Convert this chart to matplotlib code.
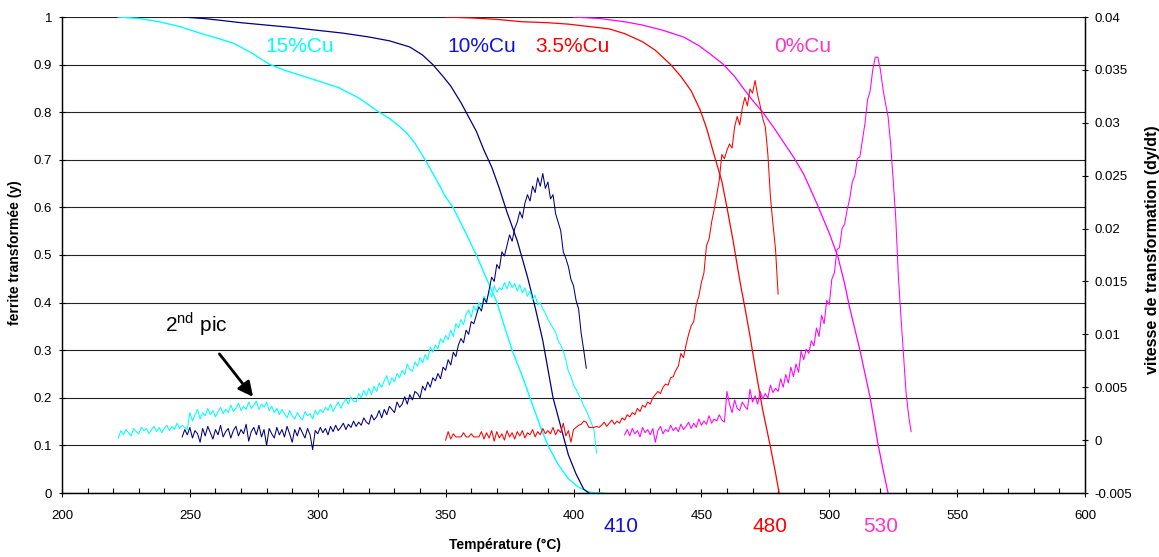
import numpy as np
import matplotlib
matplotlib.use("Agg")
import matplotlib.pyplot as plt
from matplotlib.ticker import MultipleLocator, FormatStrFormatter

plt.rcParams['font.family'] = ['Liberation Sans', 'DejaVu Sans']
plt.rcParams['mathtext.fontset'] = 'custom'
plt.rcParams['mathtext.rm'] = 'Liberation Sans'

# ---- fraction transformée (axe gauche) ----
t_15 = [222, 230, 238, 246, 254, 261, 267, 274, 281, 287, 293, 300, 308, 316, 324, 328, 332,
        335, 338, 342, 346, 350, 353, 358, 362, 366, 370, 373, 376, 380, 383, 387, 390, 394,
        398, 402, 406, 409, 412]
y_15 = [1.0, 0.997, 0.99, 0.98, 0.966, 0.955, 0.945, 0.925, 0.901, 0.888, 0.878, 0.866, 0.852,
        0.83, 0.80, 0.787, 0.77, 0.755, 0.735, 0.70, 0.662, 0.622, 0.599, 0.545, 0.50, 0.45,
        0.401, 0.35, 0.30, 0.245, 0.20, 0.14, 0.10, 0.06, 0.03, 0.012, 0.002, 0.0, 0.0]

t_10 = [247, 255, 262, 270, 280, 290, 300, 310, 320, 328, 336, 341, 345, 349, 352, 356, 359,
        362, 365, 368, 371, 374, 378, 382, 385, 388, 392, 395, 398, 401, 404, 406]
y_10 = [1.0, 0.997, 0.993, 0.988, 0.983, 0.978, 0.972, 0.966, 0.958, 0.95, 0.937, 0.92, 0.90,
        0.875, 0.855, 0.82, 0.79, 0.76, 0.72, 0.685, 0.64, 0.59, 0.53, 0.454, 0.39, 0.32, 0.20,
        0.14, 0.08, 0.04, 0.008, 0.0]

t_35 = [350, 360, 370, 380, 390, 398, 406, 414, 420, 427, 432, 438, 442, 446, 449.5, 452, 455,
        458, 460, 462.4, 465, 467, 469, 471, 474, 477, 479, 480.4]
y_35 = [1.0, 0.998, 0.995, 0.99, 0.988, 0.985, 0.98, 0.975, 0.965, 0.948, 0.93, 0.90, 0.875,
        0.845, 0.805, 0.767, 0.71, 0.655, 0.6, 0.53, 0.447, 0.39, 0.33, 0.265, 0.174, 0.097,
        0.042, 0.0]

t_0 = [400, 410, 420, 427, 435, 443, 449, 453, 458.5, 463, 466, 470, 474, 478, 482, 486, 490,
       495, 500, 503.4, 506, 508, 512, 516, 519, 521, 523]
y_0 = [1.0, 0.997, 0.99, 0.983, 0.972, 0.958, 0.94, 0.924, 0.901, 0.875, 0.853, 0.825, 0.80,
       0.77, 0.738, 0.706, 0.67, 0.61, 0.546, 0.496, 0.44, 0.389, 0.30, 0.20, 0.105, 0.05, 0.0]

# ---- vitesse de transformation (axe droit), en 1e-3, pas de 1 °C ----
rt_15 = np.arange(222, 410)
r_15 = [0.2, 0.9, 0.5, 1.0, 0.7, 0.4, 1.1, 0.8, 0.6, 1.2,
        0.9, 1.1, 0.6, 1.0, 1.3, 0.8, 1.2, 0.7, 1.1, 1.4,
        0.9, 1.3, 1.0, 1.6, 1.1, 1.4, 1.2, 1.0, 2.6, 1.8,
        2.4, 2.9, 2.0, 2.6, 2.3, 3.0, 2.4, 2.8, 2.2, 2.7,
        3.1, 2.5, 2.9, 2.6, 3.3, 2.7, 3.0, 3.5, 2.8, 3.2,
        2.9, 3.6, 3.0, 3.3, 3.7, 2.9, 3.4, 3.1, 3.6, 2.8,
        3.2, 2.6, 3.0, 2.4, 2.9, 2.5, 2.1, 2.8, 2.3, 2.0,
        2.6, 2.2, 1.9, 2.7, 2.3, 2.5, 2.0, 2.8, 2.4, 2.9,
        2.6, 3.1, 2.8, 3.4, 2.7, 3.2, 3.6, 3.0, 3.5, 3.9,
        3.4, 4.1, 3.7, 3.6, 4.4, 4.0, 4.7, 4.2, 4.9, 4.3,
        5.1, 4.6, 5.4, 5.0, 5.6, 6.1, 5.2, 5.9, 5.5, 6.3,
        5.9, 6.6, 6.2, 7.2, 6.7, 6.5, 7.4, 7.0, 7.8, 7.3,
        8.1, 7.6, 8.8, 8.3, 9.0, 8.6, 9.6, 9.2, 9.9, 9.5,
        10.4, 9.8, 11.0, 10.6, 11.4, 10.9, 11.9, 12.3, 11.6, 12.7,
        12.2, 13.0, 12.6, 13.6, 13.2, 14.1, 13.5, 14.6, 14.0, 14.4,
        14.2, 14.9, 14.3, 15.0, 14.4, 14.8, 14.1, 14.7, 13.9, 14.4,
        13.6, 14.1, 13.2, 13.7, 12.8, 13.0, 12.4, 12.0, 11.4, 11.0,
        10.6, 10.2, 9.4, 9.0, 8.4, 7.6, 6.5, 6.0, 5.2, 4.8,
        4.3, 3.8, 3.2, 2.8, 2.2, 1.6, 1.0, -1.2]

rt_10 = np.arange(247, 406)
r_10 = [0.3, 1.0, 0.5, 1.2, 0.2, 0.9, 0.6, -0.2, 1.1, 0.4,
        1.3, 0.7, 0.1, 1.0, 0.5, 1.4, 0.3, 0.8, 1.1, 0.2,
        0.9, 1.3, 0.4, 1.0, 0.6, 1.5, -0.1, 0.8, 1.2, 0.5,
        1.4, 0.3, 1.0, -0.5, 1.1, 0.6, 0.2, 1.2, 0.5, 1.0,
        0.3, 1.3, 0.6, -0.2, 1.0, 0.4, 1.2, 0.7, 0.2, 1.1,
        0.5, -0.9, 0.9, 0.6, 1.2, 0.7, 1.1, 0.5, 1.3, 0.8,
        1.4, 0.9, 1.2, 1.6, 1.0, 1.5, 1.2, 1.8, 1.3, 1.7,
        1.4, 2.1, 1.7, 1.5, 2.4, 1.9, 2.2, 2.8, 2.1, 2.9,
        2.4, 3.2, 2.9, 2.6, 3.6, 3.1, 3.4, 4.1, 3.4, 4.3,
        3.8, 4.6, 4.4, 4.0, 5.1, 4.7, 5.5, 5.0, 5.9, 5.6,
        6.3, 5.8, 6.9, 6.6, 7.6, 7.1, 8.3, 7.9, 9.0, 9.6,
        9.2, 10.4, 10.0, 11.2, 11.0, 11.8, 12.6, 12.2, 13.4, 13.0,
        14.2, 15.4, 15.0, 16.6, 16.2, 17.8, 17.4, 18.4, 19.4, 18.8,
        20.0, 20.6, 21.6, 21.0, 22.4, 23.2, 22.6, 24.0, 23.4, 24.8,
        24.0, 25.2, 23.8, 24.4, 22.8, 23.2, 21.4, 20.6, 19.8, 17.8,
        17.2, 16.4, 15.2, 14.6, 13.2, 12.4, 10.1, 8.5, 6.8]

rt_35 = np.arange(350, 481)
r_35 = [0.0, 0.8, 0.1, 0.6, 0.3, 0.3, 0.3, 0.7, 0.3, 0.3,
        0.6, 0.3, 0.3, 0.3, 0.8, 0.1, 0.7, 0.2, 0.9, -0.1,
        0.8, 0.2, 0.6, 0.0, 0.9, 0.3, 0.7, 0.1, 0.8, 0.4,
        0.9, 0.2, 0.7, 0.5, 1.0, 0.3, 0.8, 0.5, 1.1, 0.6,
        0.9, 0.6, 1.2, 0.5, 1.0, 0.7, 1.6, 0.4, 0.9, -0.2,
        1.0, 1.2, 1.4, 1.5, 1.8, 1.7, 1.2, 1.2, 1.2, 1.3,
        1.2, 1.4, 1.7, 1.3, 1.6, 1.9, 1.5, 1.8, 1.6, 2.1,
        1.9, 2.4, 2.2, 2.6, 2.4, 3.0, 2.7, 3.3, 3.1, 3.6,
        3.4, 4.0, 4.3, 4.6, 4.4, 5.0, 5.3, 5.2, 5.9, 6.0,
        6.6, 7.0, 8.2, 7.8, 9.0, 10.0, 10.8, 11.2, 12.8, 13.6,
        14.9, 15.8, 18.4, 19.0, 20.6, 21.8, 23.2, 24.6, 27.0, 26.6,
        27.4, 28.0, 27.6, 29.6, 30.6, 29.8, 31.4, 32.4, 31.6, 33.2,
        32.8, 34.0, 32.6, 31.6, 30.4, 29.6, 27.0, 23.0, 20.4, 18.0,
        13.8]

rt_0 = np.arange(420, 533)
r_0 = [0.5, 1.0, 0.4, 1.1, 0.6, 0.9, 0.3, 1.2, 0.7, 1.0,
       0.5, 1.1, -0.2, 0.9, 1.3, 0.6, 1.0, 0.8, 1.4, 0.9,
       1.2, 0.8, 1.5, 1.0, 1.3, 1.7, 1.1, 1.6, 1.2, 2.0,
       1.4, 1.8, 1.5, 2.3, 1.6, 2.0, 1.8, 2.4, 1.9, 1.7,
       4.6, 3.4, 2.6, 3.8, 3.0, 2.8, 3.6, 3.2, 2.9, 4.8,
       3.6, 4.2, 3.4, 4.6, 3.9, 4.4, 4.0, 5.2, 4.5, 4.9,
       4.6, 5.8, 5.0, 6.2, 5.4, 6.9, 6.0, 7.2, 6.4, 8.4,
       7.6, 8.6, 8.2, 9.4, 8.9, 10.6, 9.8, 11.8, 11.0, 13.2,
       12.8, 15.2, 15.8, 18.0, 18.2, 20.0, 20.4, 21.8, 22.8, 24.4,
       25.0, 26.6, 26.8, 28.4, 30.0, 32.2, 33.0, 35.0, 36.2, 36.2,
       35.0, 33.2, 31.8, 30.6, 28.0, 24.6, 21.0, 15.6, 11.8, 8.2,
       4.6, 2.4, 0.8]

c_15, c_10, c_35, c_0 = '#00FFFF', '#000080', '#FF0000', '#FF00FF'

fig = plt.figure(figsize=(11.59, 5.57), dpi=100)
ax = fig.add_axes([62 / 1159, 1 - 493 / 557, 1023 / 1159, 476 / 557])
ax2 = ax.twinx()

ax.plot(t_15, y_15, color=c_15, lw=1.0)
ax.plot(t_10, y_10, color=c_10, lw=0.9)
ax.plot(t_35, y_35, color=c_35, lw=0.9)
ax.plot(t_0, y_0, color=c_0, lw=0.9)

ax2.plot(rt_15, np.array(r_15) / 1000, color=c_15, lw=0.75)
ax2.plot(rt_10, np.array(r_10) / 1000, color=c_10, lw=0.75)
ax2.plot(rt_35, np.array(r_35) / 1000, color=c_35, lw=0.75)
ax2.plot(rt_0, np.array(r_0) / 1000, color=c_0, lw=0.75)

ax.set_xlim(200, 600)
ax.set_ylim(0, 1)
ax2.set_ylim(-0.005, 0.04)

ax.xaxis.set_major_locator(MultipleLocator(50))
ax.xaxis.set_minor_locator(MultipleLocator(10))
ax.yaxis.set_major_locator(MultipleLocator(0.1))
ax.yaxis.set_major_formatter(FormatStrFormatter('%g'))
ax2.yaxis.set_major_locator(MultipleLocator(0.005))
ax2.yaxis.set_major_formatter(FormatStrFormatter('%g'))

ax.grid(axis='y', color='#222222', lw=0.8)
ax.set_axisbelow(True)
ax.tick_params(axis='x', which='major', direction='inout', length=6, width=0.8,
               labelsize=9.5, pad=9)
ax.tick_params(axis='x', which='minor', direction='in', length=3.5, width=0.8)
ax.tick_params(axis='y', direction='inout', length=5, width=0.8, labelsize=9.5, pad=4.5)
ax2.tick_params(axis='y', direction='inout', length=5, width=0.8, labelsize=9.5, pad=4.5)

for a in (ax, ax2):
    a.spines['top'].set_visible(False)
    for s in ('left', 'right', 'bottom'):
        a.spines[s].set_linewidth(0.9)

# labels des courbes
ax.text(293, 0.937, '15%Cu', color=c_15, fontsize=15, ha='center', va='center')
ax.text(364, 0.937, '10%Cu', color='#1010E0', fontsize=15, ha='center', va='center')
ax.text(399.6, 0.937, '3.5%Cu', color=c_35, fontsize=15, ha='center', va='center')
ax.text(489.5, 0.937, '0%Cu', color='#FF33CC', fontsize=15, ha='center', va='center')

ax.text(418.4, -0.071, '410', color='#1010E0', fontsize=15, ha='center', va='center',
        clip_on=False)
ax.text(477, -0.071, '480', color=c_35, fontsize=15, ha='center', va='center', clip_on=False)
ax.text(520, -0.071, '530', color='#FF33CC', fontsize=15, ha='center', va='center',
        clip_on=False)

ax.annotate(r'2$^{\rm nd}$ pic', xy=(274.7, 0.202), xytext=(252.4, 0.355),
            fontsize=15, ha='center', va='center',
            arrowprops=dict(arrowstyle='-|>', color='black', lw=2, mutation_scale=22,
                            shrinkA=12, shrinkB=0))

fig.text(505 / 1159, 1 - 545 / 557, 'Température (°C)', fontsize=10, fontweight='bold',
         ha='center', va='center')
fig.text(15 / 1159, 1 - 253 / 557, 'ferrite transformée (y)', fontsize=10, fontweight='bold',
         rotation=90, ha='center', va='center')
fig.text(1152 / 1159, 1 - 250 / 557, 'vitesse de transformation (dy/dt)', fontsize=11.5,
         fontweight='bold', rotation=90, ha='center', va='center')

fig.savefig('out.png', dpi=100)
